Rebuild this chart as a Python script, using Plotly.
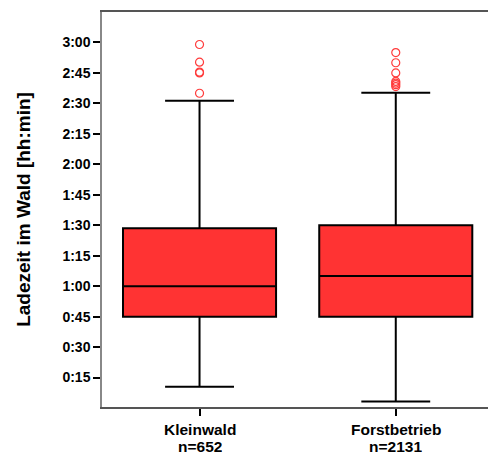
import plotly.graph_objects as go

categories = ["Kleinwald", "Forstbetrieb"]
counts = ["n=652", "n=2131"]
q1 = [45, 45]
median = [60, 65]
q3 = [88.5, 90]
lower_whisker = [10.5, 3.2]
upper_whisker = [151.3, 155.2]
outliers_klein = [179, 170.3, 165, 165.4, 155]
outliers_forst = [175, 170, 165, 160.8, 160, 159.2, 158.3]

tick_vals = [15, 30, 45, 60, 75, 90, 105, 120, 135, 150, 165, 180]
tick_text = ["0:15", "0:30", "0:45", "1:00", "1:15", "1:30", "1:45", "2:00", "2:15", "2:30", "2:45", "3:00"]

fig = go.Figure()
fig.add_trace(go.Box(
    x=categories, q1=q1, median=median, q3=q3,
    lowerfence=lower_whisker, upperfence=upper_whisker,
    fillcolor="#FF3333", line=dict(color="black", width=2),
    width=0.78, whiskerwidth=0.45, boxpoints=False, showlegend=False,
    hoverinfo="skip",
))
fig.add_trace(go.Scatter(
    x=[categories[0]] * len(outliers_klein) + [categories[1]] * len(outliers_forst),
    y=outliers_klein + outliers_forst,
    mode="markers",
    marker=dict(symbol="circle-open", size=8, color="#FF3B3B", line=dict(width=1.2)),
    showlegend=False, hoverinfo="skip",
))

for cat, n in zip(categories, counts):
    fig.add_annotation(x=cat, xref="x", y=0, yref="paper", yshift=-22,
                       text="<b>%s</b>" % cat, showarrow=False, yanchor="middle",
                       font=dict(size=15.5))
    fig.add_annotation(x=cat, xref="x", y=0, yref="paper", yshift=-38.5,
                       text="<b>%s</b>" % n, showarrow=False, yanchor="middle",
                       height=16, font=dict(size=15.5))

fig.update_layout(
    width=489, height=453,
    margin=dict(l=102, r=1, t=12, b=46),
    plot_bgcolor="white", paper_bgcolor="white",
    font=dict(family="Liberation Sans, Arial", size=14, color="black"),
)
fig.update_xaxes(
    type="category", range=[-0.497, 1.47], automargin=False,
    showticklabels=False,
    showline=True, linecolor="#555555", linewidth=1.5, mirror=True,
    ticks="outside", ticklen=7, tickwidth=2, tickcolor="black",
    showgrid=False, zeroline=False,
)
fig.update_yaxes(
    range=[0.5, 195], tickvals=tick_vals, ticktext=["<b>%s</b>" % t for t in tick_text],
    automargin=False,
    showline=True, linecolor="#888888", linewidth=1.5,
    ticks="outside", ticklen=7, tickwidth=2, tickcolor="black",
    tickfont=dict(size=14),
    showgrid=False, zeroline=False,
    title=dict(text="<b>Ladezeit im Wald [hh:min]</b>", font=dict(size=19), standoff=27),
)

fig.write_html("out.html", config={"displayModeBar": False},
               post_script="document.body.style.margin='0';")
